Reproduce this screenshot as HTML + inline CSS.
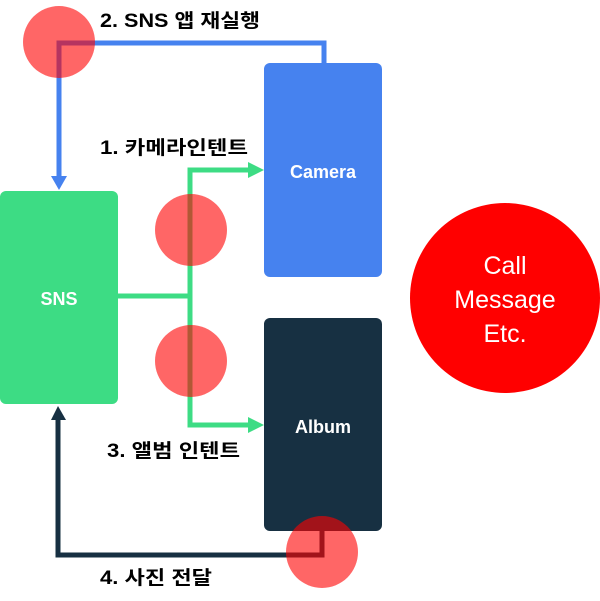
<!DOCTYPE html>
<html><head><meta charset="utf-8"><style>
html,body{margin:0;padding:0;background:#fff;width:600px;height:601px;overflow:hidden}
svg{display:block}
.l{font-family:"Liberation Sans","Noto Sans CJK KR",sans-serif;font-weight:bold;font-size:19px;fill:#000}
.b{font-family:"Liberation Sans","Noto Sans CJK KR",sans-serif;font-weight:bold;font-size:18px;fill:#fff}
</style></head><body>
<svg width="600" height="601" viewBox="0 0 600 601">
<rect x="264" y="63" width="118" height="214" rx="6" fill="#4682ef"/>
<rect x="0" y="191" width="118" height="213" rx="6" fill="#3ddc84"/>
<rect x="264" y="318" width="118" height="213" rx="6" fill="#173042"/>
<text class="b" x="323" y="178" text-anchor="middle">Camera</text>
<text class="b" x="59" y="305" text-anchor="middle">SNS</text>
<text class="b" x="323" y="433" text-anchor="middle">Album</text>
<polyline points="324,63 324,43 59,43 59,178" fill="none" stroke="#4682ef" stroke-width="5"/>
<polygon points="51,176 67,176 59,190" fill="#4682ef"/>
<polyline points="118,296 190,296" fill="none" stroke="#3ddc84" stroke-width="5"/>
<polyline points="250,170 190,170 190,425 250,425" fill="none" stroke="#3ddc84" stroke-width="5"/>
<polygon points="248,162 264,170 248,178" fill="#3ddc84"/>
<polygon points="248,417 264,425 248,433" fill="#3ddc84"/>
<polyline points="322,531 322,555 58,555 58,418" fill="none" stroke="#173042" stroke-width="5"/>
<polygon points="51,420 66,420 58,406" fill="#173042"/>
<g fill="#ff0000" fill-opacity="0.6">
<circle cx="59" cy="42" r="36"/>
<circle cx="191" cy="230" r="36"/>
<circle cx="191" cy="361" r="36"/>
<circle cx="322" cy="552" r="36"/>
</g>
<circle cx="505" cy="298" r="95" fill="#ff0000"/>
<g font-family="'Liberation Sans',sans-serif" font-size="25" fill="#fff" text-anchor="middle">
<text x="505" y="274">Call</text>
<text x="505" y="308">Message</text>
<text x="505" y="342">Etc.</text>
</g>
<text class="l" x="100" y="27" textLength="160" lengthAdjust="spacingAndGlyphs">2. SNS 앱 재실행</text>
<text class="l" x="100" y="154" textLength="148" lengthAdjust="spacingAndGlyphs">1. 카메라인텐트</text>
<text class="l" x="107" y="457" textLength="133" lengthAdjust="spacingAndGlyphs">3. 앨범 인텐트</text>
<text class="l" x="100" y="584" textLength="112" lengthAdjust="spacingAndGlyphs">4. 사진 전달</text>
</svg>
</body></html>
